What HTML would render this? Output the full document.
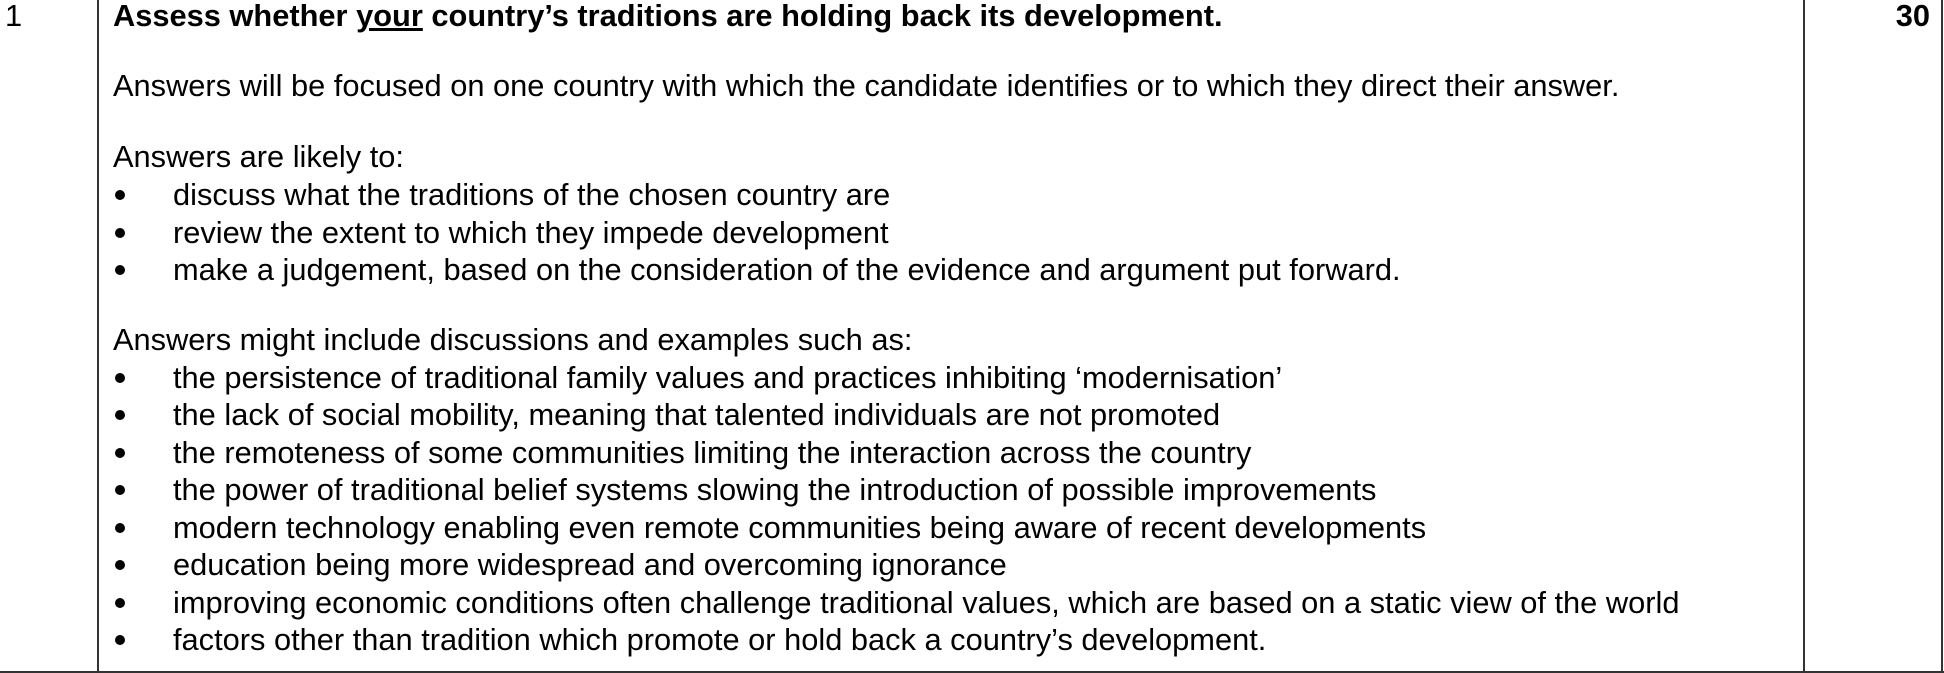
<!DOCTYPE html>
<html><head><meta charset="utf-8"><style>
body{margin:0;width:1944px;height:673px;background:#fff;position:relative;overflow:hidden;font-family:"Liberation Sans",Arial,sans-serif;font-size:30.8px;color:#000}
.l{position:absolute;white-space:nowrap;line-height:38px;height:38px}
.b{position:absolute;width:10px;height:10px;border-radius:50%;background:#000}
.v{position:absolute;top:0;width:2px;height:673px;background:#333}
</style></head><body>
<div class="v" style="left:97px"></div>
<div class="v" style="left:1803px"></div>
<div class="v" style="left:1941px"></div>
<div style="position:absolute;left:0;top:671px;width:1944px;height:2px;background:#333"></div>

<div class="l" style="left:5px;top:-3px">1</div>
<div class="l" style="left:113px;top:-3px;font-weight:bold">Assess whether <u>your</u> country’s traditions are holding back its development.</div>
<div class="l" style="right:14px;top:-3px;font-weight:bold">30</div>

<div class="l" style="left:113px;top:67px">Answers will be focused on one country with which the candidate identifies or to which they direct their answer.</div>
<div class="l" style="left:113px;top:138px">Answers are likely to:</div>

<div class="b" style="left:115px;top:190px"></div><div class="l" style="left:173px;top:176px">discuss what the traditions of the chosen country are</div>
<div class="b" style="left:115px;top:228px"></div><div class="l" style="left:173px;top:214px">review the extent to which they impede development</div>
<div class="b" style="left:115px;top:265px"></div><div class="l" style="left:173px;top:251px">make a judgement, based on the consideration of the evidence and argument put forward.</div>

<div class="l" style="left:113px;top:321px">Answers might include discussions and examples such as:</div>
<div class="b" style="left:115px;top:373px"></div><div class="l" style="left:173px;top:359px">the persistence of traditional family values and practices inhibiting ‘modernisation’</div>
<div class="b" style="left:115px;top:410px"></div><div class="l" style="left:173px;top:396px">the lack of social mobility, meaning that talented individuals are not promoted</div>
<div class="b" style="left:115px;top:448px"></div><div class="l" style="left:173px;top:434px">the remoteness of some communities limiting the interaction across the country</div>
<div class="b" style="left:115px;top:485px"></div><div class="l" style="left:173px;top:471px">the power of traditional belief systems slowing the introduction of possible improvements</div>
<div class="b" style="left:115px;top:523px"></div><div class="l" style="left:173px;top:509px">modern technology enabling even remote communities being aware of recent developments</div>
<div class="b" style="left:115px;top:560px"></div><div class="l" style="left:173px;top:546px">education being more widespread and overcoming ignorance</div>
<div class="b" style="left:115px;top:598px"></div><div class="l" style="left:173px;top:584px">improving economic conditions often challenge traditional values, which are based on a static view of the world</div>
<div class="b" style="left:115px;top:635px"></div><div class="l" style="left:173px;top:621px">factors other than tradition which promote or hold back a country’s development.</div>
</body></html>
